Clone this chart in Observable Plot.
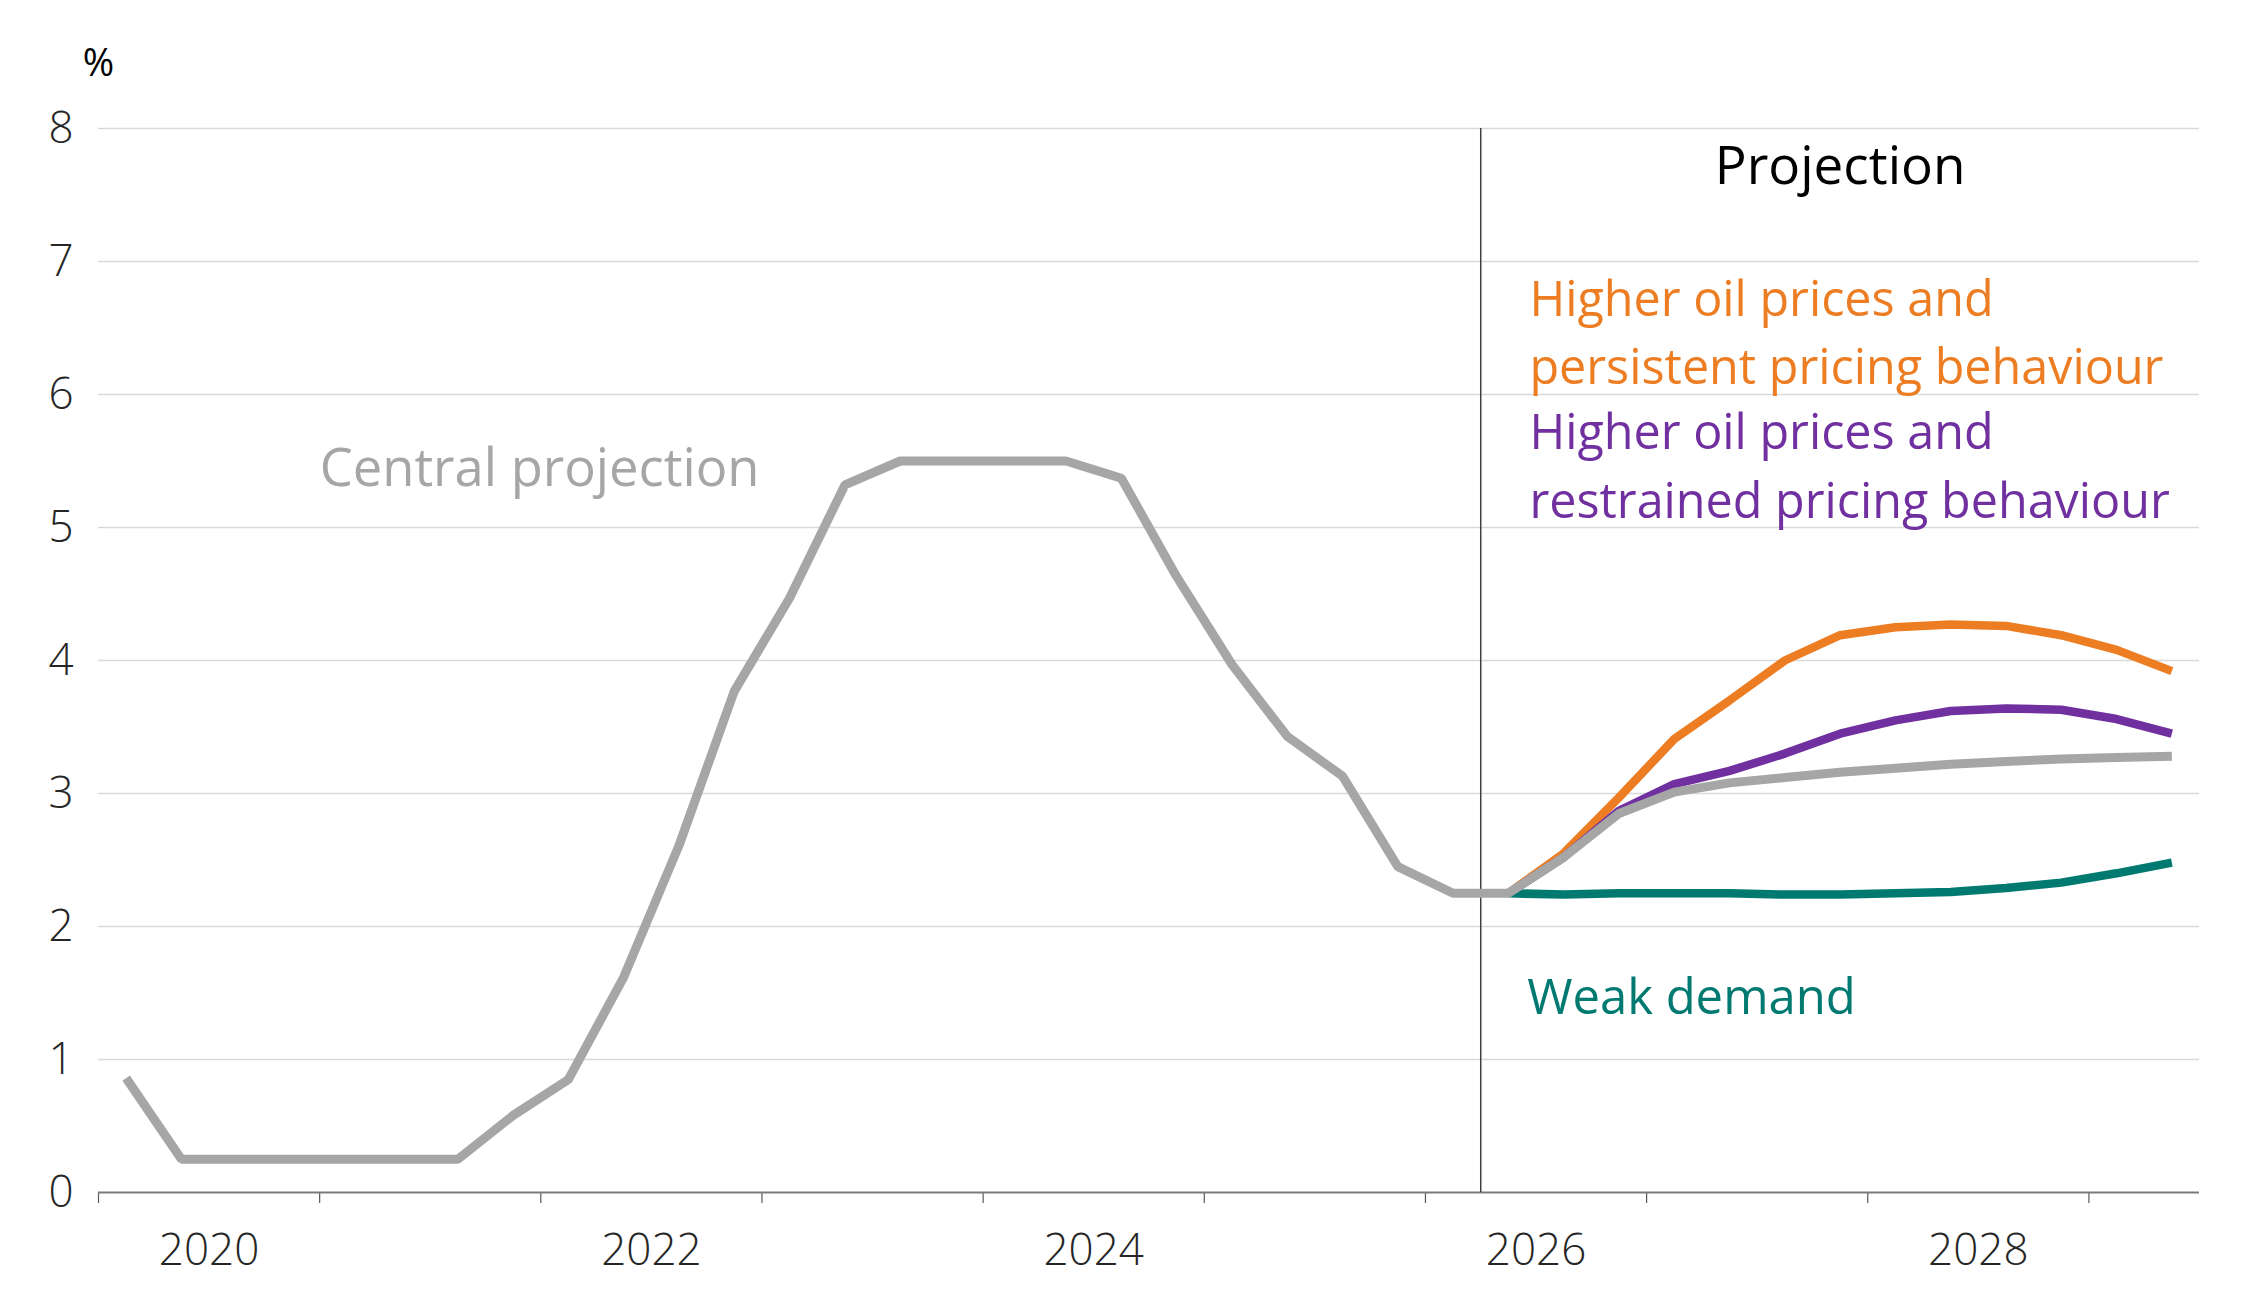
<!DOCTYPE html>
<html>
<head>
<meta charset="utf-8">
<script src="https://cdn.jsdelivr.net/npm/d3@7"></script>
<script src="https://cdn.jsdelivr.net/npm/@observablehq/plot@0.6"></script>
<style>
  html, body { margin: 0; padding: 0; background: #ffffff; }
  svg { display: block; }
</style>
</head>
<body>
<div id="chart"></div>
<script>
// Quarterly policy-rate path, per cent
const quarters = [
  "2020Q1","2020Q2","2020Q3","2020Q4",
  "2021Q1","2021Q2","2021Q3","2021Q4",
  "2022Q1","2022Q2","2022Q3","2022Q4",
  "2023Q1","2023Q2","2023Q3","2023Q4",
  "2024Q1","2024Q2","2024Q3","2024Q4",
  "2025Q1","2025Q2","2025Q3","2025Q4",
  "2026Q1","2026Q2","2026Q3","2026Q4",
  "2027Q1","2027Q2","2027Q3","2027Q4",
  "2028Q1","2028Q2","2028Q3","2028Q4",
  "2029Q1","2029Q2"
];

const central = [
  0.86, 0.25, 0.25, 0.25,
  0.25, 0.25, 0.25, 0.58,
  0.85, 1.62, 2.61, 3.77,
  4.47, 5.32, 5.50, 5.50,
  5.50, 5.50, 5.37, 4.63,
  3.97, 3.43, 3.13, 2.45,
  2.25, 2.25, 2.52, 2.85,
  3.01, 3.08, 3.12, 3.16,
  3.19, 3.22, 3.24, 3.26,
  3.27, 3.28
];

// Alternative scenarios, from 2026Q2 onwards
const scenarioQuarters = quarters.slice(25);
const higherOilPersistent = [2.25, 2.55, 2.97, 3.41, 3.70, 4.00, 4.19, 4.25, 4.27, 4.26, 4.19, 4.08, 3.92];
const higherOilRestrained = [2.25, 2.52, 2.87, 3.07, 3.17, 3.30, 3.45, 3.55, 3.62, 3.64, 3.63, 3.56, 3.45];
const weakDemand          = [2.25, 2.24, 2.25, 2.25, 2.25, 2.24, 2.24, 2.25, 2.26, 2.29, 2.33, 2.40, 2.48];

const yTicks = [0, 1, 2, 3, 4, 5, 6, 7, 8];
const yearTicks = [2020, 2021, 2022, 2023, 2024, 2025, 2026, 2027, 2028, 2029];
const yearLabels = [2020, 2022, 2024, 2026, 2028];
const projectionStart = 2026.25; // start of 2026Q2

// Quarter label -> decimal year at the middle of the quarter
const quarterMid = q => +q.slice(0, 4) + (+q.slice(5) - 0.5) / 4;

const series = (qs, values) => qs.map((q, i) => ({x: quarterMid(q), y: values[i]}));

const centralData = series(quarters, central);
const persistentData = series(scenarioQuarters, higherOilPersistent);
const restrainedData = series(scenarioQuarters, higherOilRestrained);
const weakData = series(scenarioQuarters, weakDemand);

const GREY = "#a6a6a6";
const ORANGE = "#ed7d22";
const PURPLE = "#7030a0";
const TEAL = "#007a70";

const lineStyle = {x: "x", y: "y", strokeWidth: 8.5, strokeLinecap: "butt", strokeLinejoin: "miter", curve: "linear"};

const chart = Plot.plot({
  width: 2250,
  height: 1311,
  marginLeft: 98,
  marginRight: 51,
  marginTop: 128,
  marginBottom: 119,
  style: {fontFamily: "'Open Sans', 'Noto Sans', sans-serif", fontSize: "44px", background: "#ffffff", color: "#262626"},
  x: {domain: [2020, 2029.5]},
  y: {domain: [0, 8]},
  marks: [
    // horizontal gridlines
    Plot.ruleY(yTicks.filter(d => d > 0), {stroke: "#d9d9d9", strokeWidth: 1.5}),
    // y tick labels
    Plot.axisY(yTicks, {tickSize: 0, tickPadding: 25, tickFormat: d => String(d), label: null, fontWeight: 300, fill: "#262626"}),
    // x axis: year ticks and centred year labels
    Plot.axisX(yearTicks, {tickSize: 11, tickFormat: () => "", label: null, stroke: "#595959", strokeWidth: 1.2}),
    Plot.axisX(yearLabels.map(d => d + 0.5), {tickSize: 0, tickPadding: 41, tickFormat: d => String(Math.floor(d)), label: null, fontWeight: 300, fill: "#262626"}),
    Plot.ruleY([0], {stroke: "#7a7a7a", strokeWidth: 2}),
    // start of projection
    Plot.ruleX([projectionStart], {y1: 0, y2: 8, stroke: "#404040", strokeWidth: 1.5}),
    // scenario lines, central path on top
    Plot.line(persistentData, {...lineStyle, stroke: ORANGE}),
    Plot.line(restrainedData, {...lineStyle, stroke: PURPLE}),
    Plot.line(weakData, {...lineStyle, stroke: TEAL}),
    Plot.line(centralData, {...lineStyle, strokeWidth: 9, stroke: GREY}),
    // unit label
    Plot.text(["%"], {x: 2020, y: 8, dy: -53, lineAnchor: "bottom", textAnchor: "middle", fontSize: 38, fill: "#000000"}),
    // annotations
    Plot.text(["Projection"], {x: 2027.875, y: 7.585, lineAnchor: "bottom", textAnchor: "middle", fontSize: 53, fill: "#000000"}),
    Plot.text(["Higher oil prices and\npersistent pricing behaviour"], {x: 2026.47, y: 6.08, lineAnchor: "bottom", textAnchor: "start", fontSize: 48.5, lineHeight: 1.4, fill: ORANGE}),
    Plot.text(["Higher oil prices and\nrestrained pricing behaviour"], {x: 2026.47, y: 5.075, lineAnchor: "bottom", textAnchor: "start", fontSize: 48.5, lineHeight: 1.42, fill: PURPLE}),
    Plot.text(["Central projection"], {x: 2021.0, y: 5.315, lineAnchor: "bottom", textAnchor: "start", fontSize: 52.5, fill: GREY}),
    Plot.text(["Weak demand"], {x: 2026.46, y: 1.34, lineAnchor: "bottom", textAnchor: "start", fontSize: 49, fill: TEAL})
  ]
});

document.getElementById("chart").append(chart);
</script>
</body>
</html>
